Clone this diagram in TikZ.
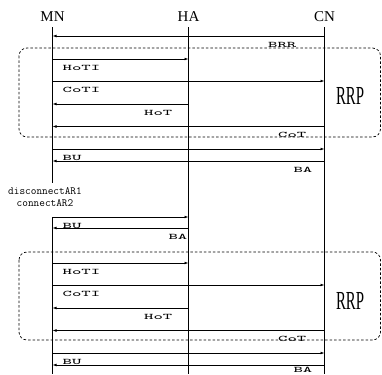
\documentclass[tikz,border=0pt]{standalone}
\usepackage{fontspec}
\setmainfont{Liberation Serif}
\usetikzlibrary{arrows.meta}
\begin{document}
\begin{tikzpicture}[
        x=1pt,
        y=-1pt,
        line width=0.7pt
    ]
    \tikzset{
        head/.style = {inner sep=0pt, minimum height=20pt, font=\fontsize{15}{15}\selectfont},
        life/.style = {line width=0.8pt},
        msg/.style = {-{Latex[length=4pt,width=2.8pt]}},
        lbl/.style = {inner sep=0pt, xscale=2.1, font=\ttfamily\fontsize{8.5}{9}\selectfont},
        note/.style = {inner sep=0pt, font=\ttfamily\fontsize{11}{12}\selectfont},
        box/.style = {rounded corners=8pt, dash pattern=on 2.5pt off 2pt},
        tag/.style = {inner sep=0pt, xscale=0.57, font=\fontsize{26}{26}\selectfont},
    }
    \useasboundingbox (0,0) rectangle (382,374);
    \node[head] at (52.5,17) (mn) {MN};
    \node[head] at (188.5,17) (ha) {HA};
    \node[head] at (324.5,17) (cn) {CN};
    \coordinate (mncut) at (52.5,183);
    \coordinate (mnback) at (52.5,217);
    \coordinate (mnend) at (52.5,374);
    \coordinate (haend) at (188.5,374);
    \coordinate (cnend) at (324.5,374);
    %
    \draw[box] (19,48) rectangle (380.5,137);
    \draw[box] (19,252) rectangle (380.5,340);
    \node[tag] at (350,96) (rrp1) {RRP};
    \node[tag] at (350,301) (rrp2) {RRP};
    %
    \draw[life] (mn) -- (mncut);
    \draw[life] (mnback) -- (mnend);
    \draw[life] (ha) -- (haend);
    \draw[life] (cn) -- (cnend);
    %
    \draw[msg] (cn |- 0,36) -- (mn |- 0,36);
    \node[lbl, anchor=east] at (297,44.5) (brr) {BRR};
    \draw[msg] (mn |- 0,59) -- (ha |- 0,59);
    \node[lbl, anchor=west] at (62,67.5) (hoti1) {HoTI};
    \draw[msg] (mn |- 0,81) -- (cn |- 0,81);
    \node[lbl, anchor=west] at (62,90) (coti1) {CoTI};
    \draw[msg] (ha |- 0,104) -- (mn |- 0,104);
    \node[lbl, anchor=east] at (173,112.5) (hot1) {HoT};
    \draw[msg] (cn |- 0,126.5) -- (mn |- 0,126.5);
    \node[lbl, anchor=east] at (307,135) (cot1) {CoT};
    \draw[msg] (mn |- 0,149) -- (cn |- 0,149);
    \node[lbl, anchor=west] at (62,157.5) (bu1) {BU};
    \draw[msg] (cn |- 0,161) -- (mn |- 0,161);
    \node[lbl, anchor=east] at (313,169.5) (ba1) {BA};
    %
    \node[note] at (45,191.5) (dis) {disconnectAR1};
    \node[note] at (45,203) (con) {connectAR2};
    %
    \draw[msg] (mn |- 0,217) -- (ha |- 0,217);
    \node[lbl, anchor=west] at (62,225.5) (bu2) {BU};
    \draw[msg] (ha |- 0,228) -- (mn |- 0,228);
    \node[lbl, anchor=east] at (188,236.5) (ba2) {BA};
    %
    \draw[msg] (mn |- 0,263) -- (ha |- 0,263);
    \node[lbl, anchor=west] at (62,271.5) (hoti2) {HoTI};
    \draw[msg] (mn |- 0,285) -- (cn |- 0,285);
    \node[lbl, anchor=west] at (62,294) (coti2) {CoTI};
    \draw[msg] (ha |- 0,308) -- (mn |- 0,308);
    \node[lbl, anchor=east] at (173,316.5) (hot2) {HoT};
    \draw[msg] (cn |- 0,330.5) -- (mn |- 0,330.5);
    \node[lbl, anchor=east] at (307,339) (cot2) {CoT};
    \draw[msg] (mn |- 0,353) -- (cn |- 0,353);
    \node[lbl, anchor=west] at (62,361.5) (bu3) {BU};
    \draw[msg] (cn |- 0,365) -- (mn |- 0,365);
    \node[lbl, anchor=east] at (313,370) (ba3) {BA};
\end{tikzpicture}
\end{document}
